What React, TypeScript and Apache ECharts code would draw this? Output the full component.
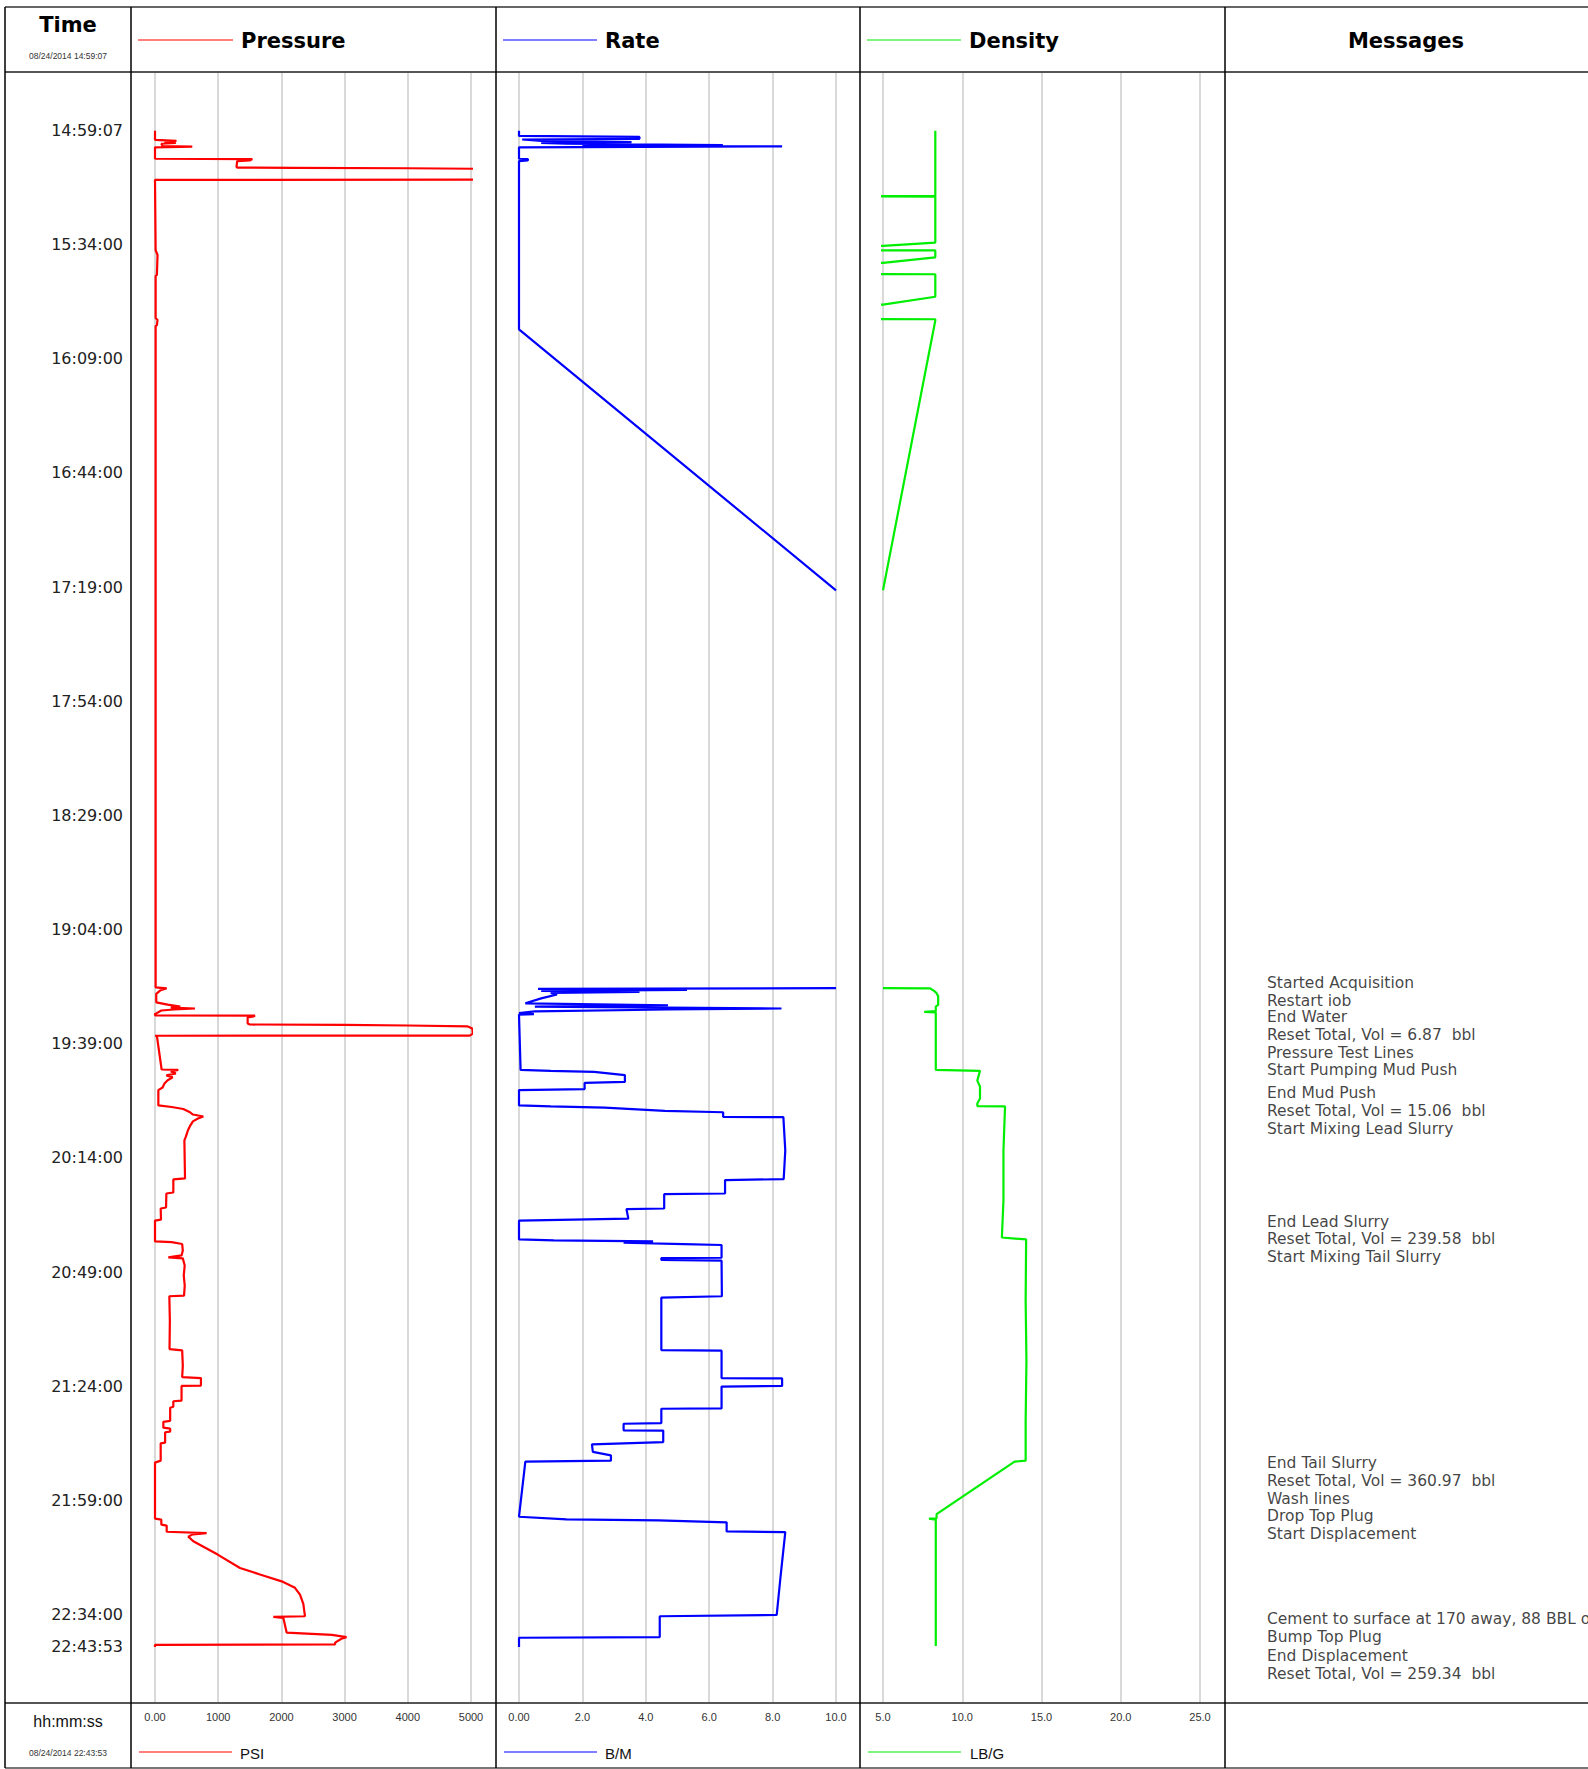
import React, { useEffect, useRef } from "react";
import * as echarts from "echarts";

// ---------- DATA ----------
const startTime = "14:59:07";
const endTime = "22:43:53";
const timeTicks = [
  "14:59:07", "15:34:00", "16:09:00", "16:44:00", "17:19:00", "17:54:00", "18:29:00",
  "19:04:00", "19:39:00", "20:14:00", "20:49:00", "21:24:00", "21:59:00", "22:34:00", "22:43:53",
];

// [elapsed minutes since 14:59:07, PSI]
const pressure: ([number, number] | null)[] = [
  [0, 0], [2.8, 0], [3.1, 340], [3.4, 150], [3.7, 330], [4.0, 100], [4.7, 120], [4.9, 590], [5.1, 0],
  [8.6, 0], [8.7, 1540], [9.1, 1500], [9.3, 1300], [11.1, 1290], [11.3, 1300], [11.4, 2200], [11.5, 4000],
  [11.7, 5300], [15.0, 5300], [15.1, 0],
  [36.6, 10], [38.1, 40], [44.2, 30], [44.5, 10], [57.4, 10], [58.0, 40], [59.6, 30], [59.9, 10],
  [262.6, 10], [262.9, 185], [263.6, 80], [264.6, 20], [267.2, 20], [267.9, 200], [268.5, 400], [268.8, 250],
  [269.1, 633], [269.4, 300], [269.7, 100], [270.6, 20], [270.8, 0], [271.2, 0], [271.25, 1582], [271.5, 1560],
  [271.8, 1466], [273.7, 1466], [274.0, 1500], [274.1, 3000], [274.3, 4000], [274.6, 4950], [275.2, 5020],
  [276.8, 5030], [277.4, 4980], [277.45, 0], [277.5, 30], [287.8, 105], [287.9, 369], [288.4, 250], [289.0, 330],
  [289.6, 180], [290.2, 280], [291.1, 200], [292.1, 150], [293.3, 120], [294.1, 53], [298.8, 53], [299.3, 264],
  [299.9, 448], [300.9, 554], [301.6, 600], [302.2, 765], [302.8, 680], [303.7, 600], [304.9, 560], [306.5, 520],
  [308.3, 490], [309.5, 465], [315.7, 470], [321.2, 475], [321.5, 290], [325.5, 290], [325.8, 180], [330.1, 175],
  [330.4, 90], [333.8, 95], [334.1, 0], [340.5, 0], [340.7, 264], [341.3, 430], [343.3, 440], [344.8, 420],
  [345.4, 211], [345.7, 440], [347.9, 470], [350.9, 455], [354.0, 470], [357.1, 460], [357.3, 227], [364.8, 235],
  [373.5, 230], [373.9, 430], [378.6, 440], [382.1, 430], [382.4, 727], [384.7, 727], [384.8, 420], [389.3, 420],
  [389.5, 290], [391.2, 290], [391.5, 240], [395.5, 240], [395.8, 132], [397.6, 132], [397.9, 240], [398.8, 240],
  [399.0, 160], [402.2, 160], [402.4, 90], [407.7, 90], [408.3, 0], [425.5, 0], [425.8, 100], [427.3, 100],
  [427.6, 185], [429.5, 185], [429.9, 817], [430.3, 600], [431.0, 527], [432.4, 606], [436.5, 992], [440.6, 1345],
  [442.6, 1661], [444.7, 2004], [446.7, 2215], [448.8, 2294], [451.6, 2347], [455.4, 2373], [455.6, 1872],
  [455.9, 2030], [460.4, 2083], [461.1, 2800], [461.8, 3030], [462.3, 2950], [463.5, 2850], [464.0, 2850],
  [464.2, 0], [464.8, 0],
];

// [elapsed minutes, B/M]
const rate: ([number, number] | null)[] = [
  [0, 0], [1.6, 0], [1.9, 3.8], [2.5, 3.8], [2.7, 0.1], [3.1, 0.7], [3.5, 3.55], [3.7, 0.7], [4.0, 1.5],
  [4.4, 6.43], [4.5, 2.0], [4.8, 8.3], [5.1, 0], [8.6, 0], [8.7, 0.28], [9.1, 0.28], [9.3, 0], [60.9, 0],
  [140.9, 10], null,
  [262.85, 10], [263.1, 0.6], [263.4, 5.3], [263.7, 0.7], [264.0, 3.8], [264.3, 1.0], [264.8, 1.2], [266.0, 0.7],
  [267.5, 0.2], [268.1, 4.7], [268.5, 0.5], [269.1, 8.28], [269.4, 4.7], [270.0, 0.5], [270.5, 0], [270.8, 0.47],
  [271.0, 0], [287.9, 0.05], [288.2, 1.0], [288.5, 2.37], [289.5, 3.34], [291.6, 3.34], [291.9, 2.07],
  [293.8, 2.07], [294.1, 0], [298.8, 0], [299.1, 1.0], [299.5, 2.7], [300.5, 4.6], [300.9, 6.44], [302.3, 6.44],
  [302.4, 8.34], [312.6, 8.4], [321.4, 8.35], [321.7, 6.5], [325.8, 6.5], [326.0, 4.58], [330.4, 4.58],
  [330.6, 3.39], [333.5, 3.45], [334.1, 0], [339.9, 0], [340.2, 1.1], [340.5, 4.23], [340.9, 3.3], [341.3, 5.2],
  [341.6, 6.39], [345.5, 6.39], [345.6, 4.49], [346.2, 4.49], [346.4, 6.39], [357.3, 6.4], [357.7, 4.49],
  [373.8, 4.49], [374.0, 6.39], [382.4, 6.39], [382.5, 8.3], [384.8, 8.3], [385.0, 6.39], [391.7, 6.39],
  [391.8, 4.49], [396.2, 4.49], [396.4, 3.3], [398.4, 3.3], [398.5, 4.55], [402.0, 4.55], [402.7, 2.3],
  [405.0, 2.33], [406.1, 2.9], [407.7, 2.9], [408.0, 0.2], [424.9, 0], [425.7, 1.5], [426.0, 4.4], [426.6, 6.55],
  [429.4, 6.55], [429.6, 8.4], [443.3, 8.25], [455.0, 8.13], [455.4, 4.44], [461.8, 4.44], [462.0, 0], [464.8, 0],
];

// [elapsed minutes, LB/G]
const density: ([number, number] | null)[] = [
  [0, 8.3], [20.0, 8.3], [20.06, 0], [20.15, 0], [20.2, 8.3], [34.3, 8.3], [35.3, 5.0], [35.4, 0], [36.6, 0],
  [36.7, 8.3], [38.8, 8.3], [40.5, 5.0], [40.6, 0], [43.9, 0], [44.0, 8.3], [50.9, 8.3], [53.3, 5.0], [53.4, 0],
  [57.7, 0], [57.8, 8.3], [58.2, 8.3], [140.9, 5.0], null,
  [262.85, 5.0], [262.9, 7.95], [263.6, 8.2], [264.2, 8.35], [265.3, 8.48], [268.0, 8.48], [268.5, 8.33],
  [269.9, 8.33], [270.1, 7.6], [270.3, 8.33], [287.9, 8.33], [288.2, 11.12], [291.2, 10.95], [293.0, 11.12],
  [296.7, 11.12], [298.2, 10.95], [299.0, 10.95], [299.1, 12.7], [312.6, 12.6], [327.9, 12.6], [339.3, 12.5],
  [339.9, 14.03], [358.7, 14.0], [377.1, 14.05], [395.5, 14.0], [407.7, 14.0], [408.0, 13.3], [424.1, 8.38],
  [425.4, 8.38], [425.5, 7.9], [425.8, 8.33], [464.5, 8.33],
];

// [elapsed minutes, message]
const messages: [number, string][] = [
  [261.3, "Started Acquisition"],
  [266.7, "Restart iob"],
  [271.6, "End Water"],
  [277.2, "Reset Total, Vol = 6.87  bbl"],
  [282.6, "Pressure Test Lines"],
  [288.1, "Start Pumping Mud Push"],
  [294.9, "End Mud Push"],
  [300.5, "Reset Total, Vol = 15.06  bbl"],
  [306.0, "Start Mixing Lead Slurry"],
  [334.4, "End Lead Slurry"],
  [339.8, "Reset Total, Vol = 239.58  bbl"],
  [345.3, "Start Mixing Tail Slurry"],
  [408.3, "End Tail Slurry"],
  [413.9, "Reset Total, Vol = 360.97  bbl"],
  [419.4, "Wash lines"],
  [424.6, "Drop Top Plug"],
  [430.1, "Start Displacement"],
  [456.2, "Cement to surface at 170 away, 88 BBL of"],
  [461.8, "Bump Top Plug"],
  [467.5, "End Displacement"],
  [473.0, "Reset Total, Vol = 259.34  bbl"],
];

const pressureTicks = { min: 0, max: 5000, interval: 1000 };
const rateTicks = { min: 0, max: 10, interval: 2 };
const densityTicks = { min: 5, max: 25, interval: 5 };

// ---------- HELPERS ----------
const toSec = (t: string) => {
  const [h, m, s] = t.split(":").map(Number);
  return h * 3600 + m * 60 + s;
};
const toMin = (t: string) => (toSec(t) - toSec(startTime)) / 60;
const tickMinutes = timeTicks.map(toMin);

const toSeries = (arr: ([number, number] | null)[]) =>
  arr.map((d) => (d === null ? ["-", "-"] : [d[1], d[0]]));

const Y_MIN = -18;
const Y_MAX = 482;

const BODY_FONT = "DejaVu Sans";

export default function App() {
  const ref = useRef<HTMLDivElement>(null);

  useEffect(() => {
    document.body.style.margin = "0";
    if (!ref.current) return;
    const chart = echarts.init(ref.current, undefined, { renderer: "svg" });

    const top = 72;
    const height = 1631;
    const grids = [
      { left: 155, top, width: 316, height },
      { left: 519, top, width: 317, height },
      { left: 883, top, width: 317, height },
      { left: 1267, top, width: 300, height },
    ];

    const xCommon = (i: number, cfg: any, fmt: (v: number) => string) => ({
      type: "value",
      gridIndex: i,
      position: "bottom",
      min: cfg.min,
      max: cfg.max,
      interval: cfg.interval,
      axisLine: { show: false },
      axisTick: { show: false },
      splitLine: { show: true, lineStyle: { color: "#cccccc", width: 1.5 } },
      axisLabel: {
        show: true,
        margin: 8,
        fontSize: 11,
        fontFamily: "Liberation Sans",
        color: "#333",
        formatter: fmt,
      },
    });

    const yCommon = (i: number) => ({
      type: "value",
      gridIndex: i,
      inverse: true,
      min: Y_MIN,
      max: Y_MAX,
      show: i === 0,
      axisLine: { show: false },
      axisTick: { show: false },
      splitLine: { show: false },
      axisLabel: {
        show: i === 0,
        customValues: tickMinutes,
        margin: 32,
        fontSize: 16,
        fontFamily: BODY_FONT,
        color: "#222",
        formatter: (v: number) => {
          const idx = tickMinutes.findIndex((t) => Math.abs(t - v) < 1e-6);
          return idx >= 0 ? timeTicks[idx] : "";
        },
      },
    });

    const hLine = (y: number, color: string, w: number) => ({
      type: "line",
      shape: { x1: 5, y1: y, x2: 1588, y2: y },
      style: { stroke: color, lineWidth: w },
      z: 100,
    });
    const vLine = (x: number) => ({
      type: "line",
      shape: { x1: x, y1: 7, x2: x, y2: 1768 },
      style: { stroke: "#000", lineWidth: 1.5 },
      z: 100,
    });
    const txt = (x: number, y: number, text: string, font: string, align = "left", fill = "#000") => ({
      type: "text",
      x,
      y,
      style: { text, font, fill, textAlign: align, textVerticalAlign: "middle" },
      z: 100,
    });
    const legLine = (x1: number, x2: number, y: number, color: string) => ({
      type: "line",
      shape: { x1, y1: y, x2, y2: y },
      style: { stroke: color, lineWidth: 1.2 },
      z: 100,
    });

    chart.setOption({
      animation: false,
      backgroundColor: "#fff",
      grid: grids,
      xAxis: [
        xCommon(0, pressureTicks, (v) => (v === 0 ? "0.00" : String(v))),
        xCommon(1, rateTicks, (v) => (v === 0 ? "0.00" : v.toFixed(1))),
        xCommon(2, densityTicks, (v) => v.toFixed(1)),
        { type: "value", gridIndex: 3, min: 0, max: 1, show: false },
      ],
      yAxis: [yCommon(0), yCommon(1), yCommon(2), yCommon(3)],
      series: [
        {
          type: "line",
          name: "Pressure",
          xAxisIndex: 0,
          yAxisIndex: 0,
          data: toSeries(pressure),
          symbol: "none",
          clip: true,
          lineStyle: { color: "#ff0000", width: 2.2 },
        },
        {
          type: "line",
          name: "Rate",
          xAxisIndex: 1,
          yAxisIndex: 1,
          data: toSeries(rate),
          symbol: "none",
          clip: true,
          lineStyle: { color: "#0000ff", width: 2.2 },
        },
        {
          type: "line",
          name: "Density",
          xAxisIndex: 2,
          yAxisIndex: 2,
          data: toSeries(density),
          symbol: "none",
          clip: true,
          lineStyle: { color: "#00ee00", width: 2.2 },
        },
        {
          type: "scatter",
          name: "Messages",
          xAxisIndex: 3,
          yAxisIndex: 3,
          symbolSize: 0,
          clip: false,
          data: messages.map(([m, text]) => ({ value: [0, m], name: text })),
          label: {
            show: true,
            position: "right",
            distance: 0,
            formatter: "{b}",
            fontSize: 15.5,
            fontFamily: BODY_FONT,
            color: "#111",
          },
        },
      ],
      graphic: [
        hLine(7, "#666", 2),
        hLine(72, "#555", 2),
        hLine(1703, "#555", 2),
        hLine(1768, "#777", 2),
        vLine(5),
        vLine(131),
        vLine(496),
        vLine(860),
        vLine(1225),
        txt(68, 25, "Time", `bold 21px "${BODY_FONT}"`, "center"),
        txt(68, 56, "08/24/2014 " + startTime, `8.5px "Liberation Sans"`, "center", "#333"),
        legLine(138, 233, 40, "#ff0000"),
        txt(241, 41, "Pressure", `bold 21px "${BODY_FONT}"`),
        legLine(503, 597, 40, "#0000ff"),
        txt(605, 41, "Rate", `bold 21px "${BODY_FONT}"`),
        legLine(867, 961, 40, "#00ee00"),
        txt(969, 41, "Density", `bold 21px "${BODY_FONT}"`),
        txt(1406, 41, "Messages", `bold 21px "${BODY_FONT}"`, "center"),
        txt(68, 1721, "hh:mm:ss", `16px "Liberation Sans"`, "center", "#111"),
        txt(68, 1753, "08/24/2014 " + endTime, `8.5px "Liberation Sans"`, "center", "#333"),
        legLine(139, 232, 1752, "#ff0000"),
        txt(240, 1753, "PSI", `15px "Liberation Sans"`, "left", "#111"),
        legLine(504, 597, 1752, "#0000ff"),
        txt(605, 1753, "B/M", `15px "Liberation Sans"`, "left", "#111"),
        legLine(868, 961, 1752, "#00ee00"),
        txt(970, 1753, "LB/G", `15px "Liberation Sans"`, "left", "#111"),
      ],
    });

    return () => chart.dispose();
  }, []);

  return <div ref={ref} style={{ width: 1588, height: 1769 }} />;
}
